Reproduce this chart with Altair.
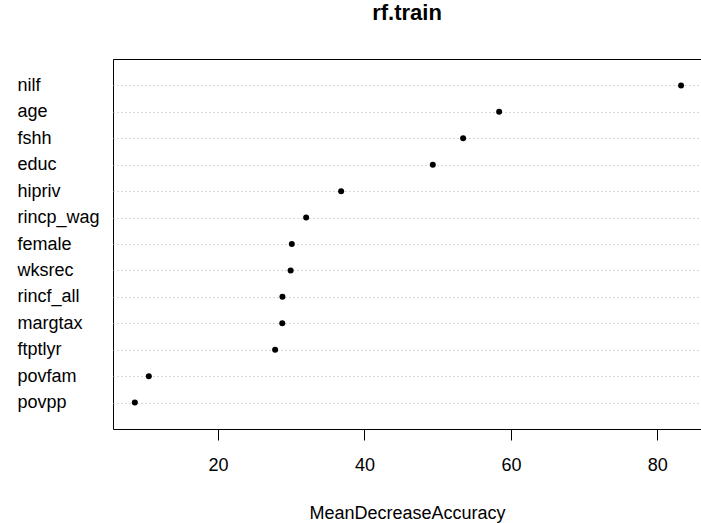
import altair as alt
import pandas as pd

variables = ["nilf", "age", "fshh", "educ", "hipriv", "rincp_wag", "female",
             "wksrec", "rincf_all", "margtax", "ftptlyr", "povfam", "povpp"]
importance = [83.24, 58.39, 53.47, 49.33, 36.81, 32.03, 30.07,
              29.91, 28.79, 28.77, 27.79, 10.54, 8.63]
x_ticks = [20, 40, 60, 80]

df = pd.DataFrame({"variable": variables, "MeanDecreaseAccuracy": importance})

FONT = "Liberation Sans"

chart = alt.Chart(df).mark_circle(color="black", opacity=1, size=36).encode(
    x=alt.X(
        "MeanDecreaseAccuracy:Q",
        scale=alt.Scale(domain=[5.65, 85.96], nice=False, zero=False),
        axis=alt.Axis(
            values=x_ticks, grid=False, domain=False, tickSize=11,
            tickColor="black", tickWidth=1, labelColor="black", labelFontSize=18,
            labelFont=FONT, labelBaseline="alphabetic", labelPadding=30,
            title="MeanDecreaseAccuracy", titleFont=FONT, titleFontSize=18,
            titleFontWeight="normal", titleColor="black",
            titleBaseline="alphabetic", titleY=89, titleX=294,
            titleAnchor="middle",
        ),
    ),
    y=alt.Y(
        "variable:N", sort=variables,
        scale=alt.Scale(type="point", padding=1),
        axis=alt.Axis(
            title=None, grid=True, gridColor="#b0b0b0", gridDash=[1, 3],
            gridWidth=1, gridOpacity=1, domain=False, ticks=False, tickSize=0,
            labelAlign="left", labelPadding=96, labelFontSize=18,
            labelFont=FONT, labelColor="black", labelBaseline="middle",
        ),
    ),
).properties(
    width=588, height=370,
    title=alt.Title("rf.train", font=FONT, fontSize=22, fontWeight="bold",
                    color="black", anchor="middle", baseline="alphabetic",
                    offset=17),
    autosize=alt.AutoSizeParams(type="none"),
    padding={"left": 113, "top": 59, "right": 0, "bottom": 94},
).configure(background="white").configure_view(stroke="black", strokeWidth=1)

chart.save("out.html", embed_options={"renderer": "svg", "actions": False})
